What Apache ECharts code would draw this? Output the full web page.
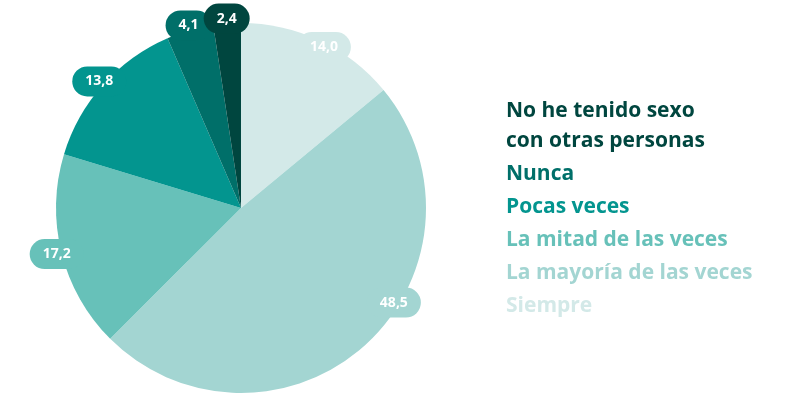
<!DOCTYPE html>
<html>
<head>
<meta charset="utf-8">
<script src="https://cdn.jsdelivr.net/npm/echarts@6/dist/echarts.min.js"></script>
<style>
  html, body { margin: 0; padding: 0; background: #fff; }
  #main { width: 800px; height: 400px; }
</style>
</head>
<body>
<div id="main"></div>
<script>
// categories, clockwise from 12 o'clock
const categories = ['Siempre', 'La mayoría de las veces', 'La mitad de las veces', 'Pocas veces', 'Nunca', 'No he tenido sexo\ncon otras personas']
const values = [14.0, 48.5, 17.2, 13.8, 4.1, 2.4]
const colors = ['#d3e9e8', '#a3d5d2', '#67c1b9', '#03958f', '#006f69', '#00463f']
// legend reads top to bottom in reverse order
const legendOrder = [5, 4, 3, 2, 1, 0]

const fmt = v => v.toFixed(1).replace('.', ',')

const pieData = categories.map((c, i) => ({
  name: c,
  value: values[i],
  itemStyle: { color: colors[i] }
}))

const labelData = categories.map((c, i) => ({
  name: c,
  value: values[i],
  itemStyle: { color: 'rgba(0,0,0,0)' },
  label: { backgroundColor: colors[i] }
}))

const myChart = echarts.init(document.getElementById('main'))
const option = {
  animation: false,
  legend: {
    orient: 'vertical',
    left: 496,
    top: 91,
    icon: 'none',
    itemWidth: 0,
    itemGap: 3,
    selectedMode: false,
    textStyle: {
      fontFamily: 'Open Sans',
      fontWeight: 'bold',
      fontSize: 21,
      lineHeight: 30
    },
    data: legendOrder.map(i => ({
      name: categories[i],
      textStyle: { color: colors[i] }
    }))
  },
  series: [{
    type: 'pie',
    center: [241, 208],
    radius: [0, 185],
    startAngle: 90,
    clockwise: true,
    silent: true,
    label: { show: false },
    labelLine: { show: false },
    data: pieData
  }, {
    // invisible ring only used to place the pill labels on the rim
    type: 'pie',
    center: [241, 208],
    radius: [174, 200],
    startAngle: 90,
    clockwise: true,
    silent: true,
    label: {
      show: true,
      position: 'inside',
      formatter: p => fmt(p.value),
      color: '#fff',
      fontFamily: 'Open Sans',
      fontWeight: 'bold',
      fontSize: 14,
      padding: [8, 13, 8, 13],
      borderRadius: 16
    },
    labelLine: { show: false },
    labelLayout: params => {
      if (params.dataIndex === 0) return { dx: 2, dy: 11 }
      if (params.dataIndex === 1) return { dx: 25, dy: -46 }
      return {}
    },
    data: labelData
  }]
}
myChart.setOption(option)
</script>
</body>
</html>
